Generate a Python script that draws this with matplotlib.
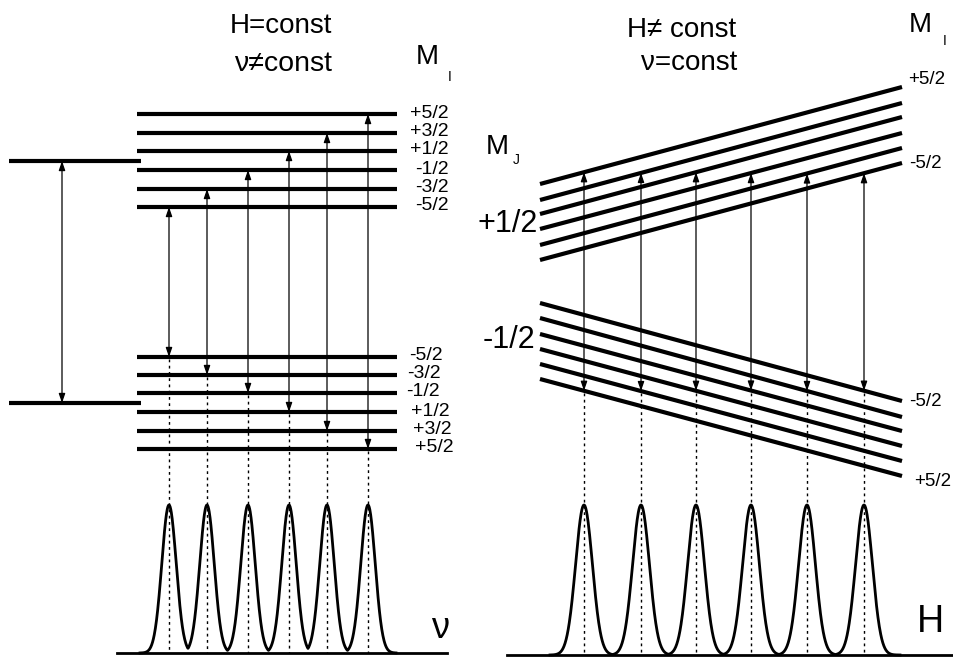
import numpy as np
import matplotlib
matplotlib.use("Agg")
import matplotlib.pyplot as plt
from matplotlib.patches import FancyArrowPatch

plt.rcParams['font.family'] = ['Liberation Sans', 'DejaVu Sans']

# ---------------- data (diagram units = pixels, y downward) ----------------
# Left panel: electronic levels
elec_y = [161, 403]
elec_x = [9, 141]
elec_arrow_x = 62

# Left panel: hyperfine sublevels
mi_labels_up = ["+5/2", "+3/2", "+1/2", "-1/2", "-3/2", "-5/2"]
up_levels_y = [114, 133, 151, 170, 189, 207]
mi_labels_low = ["-5/2", "-3/2", "-1/2", "+1/2", "+3/2", "+5/2"]
low_levels_y = [357, 375, 393, 412, 431, 449]
low_label_x = [409, 407, 406, 411, 413, 415]
level_x = [137, 397]

# Left transitions: (x, upper level index, lower level index)
left_trans_x = [169, 207, 248, 289, 327, 368]
left_trans_up = [5, 4, 3, 2, 1, 0]
left_trans_low = [0, 1, 2, 3, 4, 5]

# Right panel: field-dependent lines
line_x = [540, 902]
upper_left_y = [184, 200, 214, 229, 245, 260]
upper_right_y = [87, 103, 117, 133, 148, 163]
lower_left_y = [303, 318, 334, 349, 364, 379]
lower_right_y = [401, 417, 431, 446, 461, 476]
right_trans_x = [584, 641, 696, 751, 807, 864]
right_trans_up = [0, 1, 2, 3, 4, 5]
right_trans_low = [5, 4, 3, 2, 1, 0]

# Spectra
peak_top_y = 505
left_base_y = 653
right_base_y = 655
left_base_x = [117, 447]
right_base_x = [507, 954]
peak_sigma_left = 7.2
peak_sigma_right = 8.4

# ---------------- figure ----------------
fig = plt.figure(figsize=(9.54, 6.57), dpi=100)
ax = fig.add_axes([0, 0, 1, 1])
ax.set_xlim(0, 954)
ax.set_ylim(657, 0)
ax.axis('off')

LW_LEVEL = 3.0
LW_THIN = 0.9


def darrow(x, y1, y2):
    a = FancyArrowPatch((x, y1), (x, y2),
                        arrowstyle='<|-|>,head_length=5.5,head_width=1.9',
                        mutation_scale=1, lw=LW_THIN, color='black',
                        shrinkA=0, shrinkB=0)
    ax.add_patch(a)


# Left: electronic levels
for y in elec_y:
    ax.plot(elec_x, [y, y], color='black', lw=LW_LEVEL, solid_capstyle='butt')
darrow(elec_arrow_x, elec_y[1], elec_y[0])

# Left: hyperfine levels
for y in up_levels_y + low_levels_y:
    ax.plot(level_x, [y, y], color='black', lw=LW_LEVEL, solid_capstyle='butt')
for lab, y in zip(mi_labels_up, up_levels_y):
    ax.text(449, y - 1, lab, ha='right', va='center', fontsize=14)
for lab, y, x in zip(mi_labels_low, low_levels_y, low_label_x):
    ax.text(x, y - 1, lab, ha='left', va='center', fontsize=14)

for x, iu, il in zip(left_trans_x, left_trans_up, left_trans_low):
    darrow(x, low_levels_y[il], up_levels_y[iu])
    ax.plot([x, x], [low_levels_y[il] + 2, left_base_y], color='black',
            lw=1.0, linestyle=(0, (2, 2.5)))

# Left spectrum
ax.plot(left_base_x, [left_base_y, left_base_y], color='black', lw=2.0)
xs = np.linspace(140, 396, 900)
ys = np.zeros_like(xs)
for c in left_trans_x:
    ys = np.maximum(ys, np.exp(-(xs - c) ** 2 / (2 * peak_sigma_left ** 2)))
ax.plot(xs, left_base_y - (left_base_y - peak_top_y) * ys, color='black', lw=2.0)

# Right: slanted lines
for yl, yr in zip(upper_left_y, upper_right_y):
    ax.plot(line_x, [yl, yr], color='black', lw=LW_LEVEL, solid_capstyle='butt')
for yl, yr in zip(lower_left_y, lower_right_y):
    ax.plot(line_x, [yl, yr], color='black', lw=LW_LEVEL, solid_capstyle='butt')

for x, iu, il in zip(right_trans_x, right_trans_up, right_trans_low):
    yu = np.interp(x, line_x, [upper_left_y[iu], upper_right_y[iu]])
    yl = np.interp(x, line_x, [lower_left_y[il], lower_right_y[il]])
    darrow(x, yl, yu)
    ax.plot([x, x], [yl + 2, right_base_y], color='black',
            lw=1.0, linestyle=(0, (2, 2.5)))

# Right spectrum
ax.plot(right_base_x, [right_base_y, right_base_y], color='black', lw=2.0)
xs = np.linspace(550, 900, 1000)
ys = np.zeros_like(xs)
for c in right_trans_x:
    ys = np.maximum(ys, np.exp(-(xs - c) ** 2 / (2 * peak_sigma_right ** 2)))
ax.plot(xs, right_base_y - (right_base_y - peak_top_y) * ys, color='black', lw=2.0)

# ---------------- texts ----------------
ax.text(281, 26, "H=const", ha='center', va='center', fontsize=20)
ax.text(283, 64, "ν≠const", ha='center', va='center', fontsize=20.5)
ax.text(682, 30, "H≠ const", ha='center', va='center', fontsize=20)
ax.text(689, 63, "ν=const", ha='center', va='center', fontsize=20)

ax.text(416, 57, "M", ha='left', va='center', fontsize=20)
ax.text(448, 77, "I", ha='left', va='center', fontsize=10)
ax.text(909, 25, "M", ha='left', va='center', fontsize=20)
ax.text(943, 41, "I", ha='left', va='center', fontsize=10)
ax.text(486, 147, "M", ha='left', va='center', fontsize=20)
ax.text(513, 160, "J", ha='left', va='center', fontsize=10)

ax.text(478, 224, "+1/2", ha='left', va='center', fontsize=22)
ax.text(483, 340, "-1/2", ha='left', va='center', fontsize=22)

ax.text(908, 80, "+5/2", ha='left', va='center', fontsize=13.5)
ax.text(909, 163, "-5/2", ha='left', va='center', fontsize=13.5)
ax.text(909, 402, "-5/2", ha='left', va='center', fontsize=13.5)
ax.text(914, 481, "+5/2", ha='left', va='center', fontsize=13.5)

ax.text(431, 628, "ν", ha='left', va='center', fontsize=26)
ax.text(917, 622, "H", ha='left', va='center', fontsize=27)

fig.savefig("out.png", dpi=100)
